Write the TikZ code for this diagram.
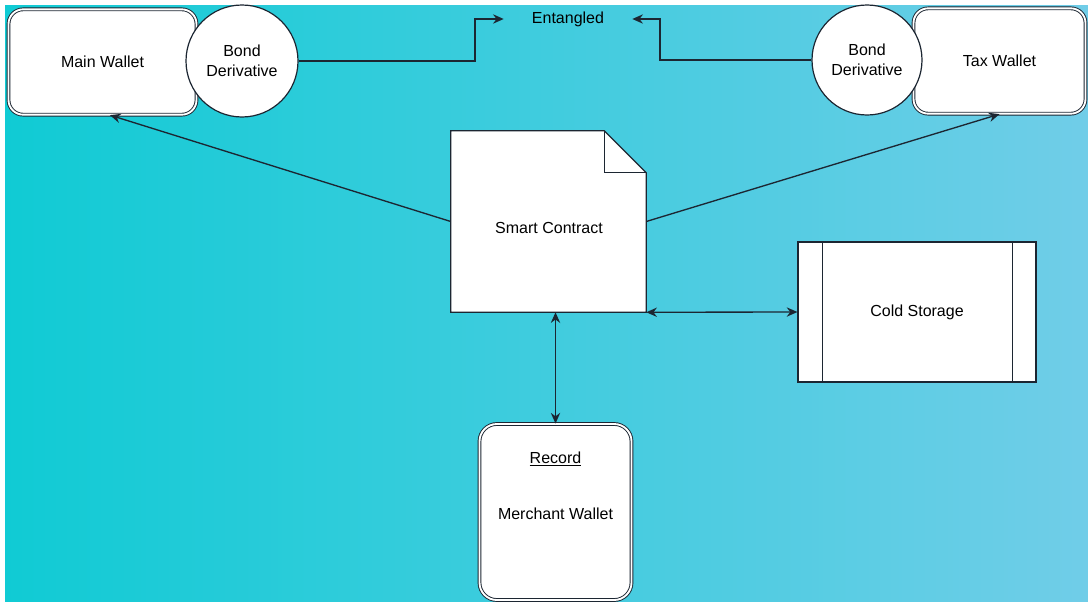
\documentclass[tikz,border=0pt]{standalone}
\usepackage{fontspec}
\setmainfont{Liberation Sans}
\usetikzlibrary{arrows.meta}

\definecolor{bgleft}{RGB}{16,203,212}
\definecolor{bgright}{RGB}{112,205,232}
\definecolor{edge}{RGB}{28,38,50}

\begin{document}
\begin{tikzpicture}[x=0.75pt, y=-0.75pt, font=\fontsize{12}{15}\selectfont,
  wallet/.style={draw=edge, line width=0.7pt, double=white, double distance=1.4pt,
    fill=white, rounded corners=11pt, inner sep=0pt},
  bond/.style={circle, draw=edge, line width=0.9pt, fill=white, inner sep=0pt, align=center},
  storage/.style={draw=edge, line width=0.9pt, fill=white, inner sep=0pt},
  link/.style={draw=edge, line width=1pt},
  >={Stealth[length=8pt,width=7pt]}]

  % Page and shaded background
  \fill[white] (0,0) rectangle (1088,603);
  \shade[left color=bgleft, right color=bgright] (5,5) rectangle (1088,601);

  % Wallets
  \node[wallet, minimum width=141pt, minimum height=79pt] (mainw) at (102.5,62) {Main Wallet};
  \node[wallet, minimum width=129pt, minimum height=79pt] (taxw) at (999.5,61) {Tax Wallet};
  \node[wallet, minimum width=114pt, minimum height=132pt, rounded corners=13pt] (merchant) at (555.5,512) {};
  \node at (555.5,459) {\underline{Record}};
  \node at (555.5,514) {Merchant Wallet};

  % Bond derivatives sit on top of the wallets
  \node[bond, minimum size=84pt] (bondl) at (242,61) {Bond\\Derivative};
  \node[bond, minimum size=82.5pt] (bondr) at (867,60) {Bond\\Derivative};

  % Entangled label and the two elbow arrows
  \node[inner xsep=21pt] (ent) at (568,19) {Entangled};
  \coordinate (jl) at (475,40);
  \coordinate (jr) at (660,40);
  \draw[link,->] (bondl.east) -| (jl) |- (ent.west);
  \draw[link,->] (bondr.west) -| (jr) |- (ent.east);

  % Smart contract page with folded corner
  \node[minimum width=146.25pt, minimum height=135.75pt, inner sep=0pt] (contract) at (548.5,221.5) {};
  \draw[edge, line width=0.9pt, fill=white] (contract.south west) -- (contract.north west)
    -- ([xshift=-31.5pt]contract.north east) -- ([yshift=-31.5pt]contract.north east)
    -- (contract.south east) -- cycle;
  \draw[edge, line width=0.9pt] ([xshift=-31.5pt]contract.north east)
    -- ([xshift=-31.5pt,yshift=-31.5pt]contract.north east) -- ([yshift=-31.5pt]contract.north east);
  \node at (549,228) {Smart Contract};

  % Cold storage
  \node[storage, minimum width=178.5pt, minimum height=105pt] (cold) at (917,312) {Cold Storage};
  \draw[edge, line width=0.9pt] ([xshift=18.75pt]cold.north west) -- ([xshift=18.75pt]cold.south west);
  \draw[edge, line width=0.9pt] ([xshift=-18pt]cold.north east) -- ([xshift=-18pt]cold.south east);

  % Connectors from the contract
  \draw[link,->] (contract.west) -- ([xshift=5.6pt]mainw.south);
  \draw[link,->] (contract.east) -- (taxw.south);
  \draw[link,<->] (contract.south east) -- (cold.west);
  \draw[link,<->] (merchant.north |- contract.south) -- (merchant.north);

\end{tikzpicture}
\end{document}
